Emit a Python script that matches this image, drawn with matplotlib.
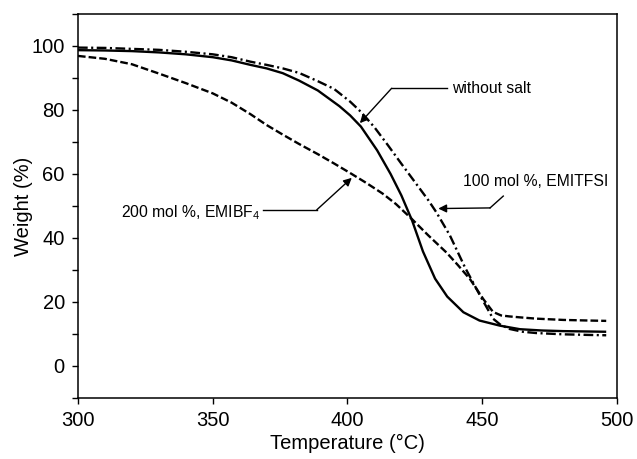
import matplotlib
matplotlib.use("Agg")
import matplotlib.pyplot as plt

plt.rcParams['font.family'] = ['Liberation Sans', 'DejaVu Sans']
plt.rcParams['mathtext.fontset'] = 'custom'
plt.rcParams['mathtext.rm'] = 'Liberation Sans'
plt.rcParams['lines.scale_dashes'] = False

# without salt (solid)
t_nosalt = [300, 310, 320, 330, 340, 350, 357, 364, 370, 376, 382, 389, 397, 401, 405,
            411, 416, 420, 424, 428, 432.5, 437, 443, 449, 456.6, 464, 472, 480, 488, 496]
w_nosalt = [98.7, 98.6, 98.4, 98.0, 97.4, 96.5, 95.5, 94.1, 93.0, 91.5, 89.2, 86.1, 81.2, 78.3, 74.8,
            67.4, 60.0, 53.3, 45.4, 35.8, 27.3, 21.7, 16.8, 14.2, 12.6, 11.5, 11.1, 10.9, 10.8, 10.7]

# 100 mol %, EMITFSI (dash-dot)
t_tfsi = [300, 310, 320, 330, 340, 350, 357, 364, 370, 376, 382, 389, 395, 401, 405, 410,
          415, 420, 425, 430, 433, 438, 443.6, 449.2, 454, 456.6, 460, 465, 470, 480, 490, 496]
w_tfsi = [99.5, 99.4, 99.1, 98.8, 98.2, 97.4, 96.5, 95.1, 94.1, 93.0, 91.6, 89.0, 86.6, 82.6, 79.4, 74.6,
          69.0, 63.2, 57.5, 51.8, 48.0, 40.8, 30.8, 22.0, 14.8, 13.0, 11.6, 10.7, 10.3, 9.9, 9.7, 9.6]

# 200 mol %, EMIBF4 (dashed)
t_bf4 = [300, 310, 320, 330, 340, 350, 357, 364, 370, 376, 382, 389, 395, 401, 407, 413, 418,
         423.8, 430, 436.8, 441, 445.5, 450.4, 454, 457, 460, 464, 470, 480, 490, 496]
w_bf4 = [96.9, 96.0, 94.3, 91.4, 88.4, 85.2, 82.3, 78.7, 75.3, 72.3, 69.4, 66.2, 63.3, 60.3, 57.2, 53.9, 50.6,
         46.0, 40.8, 35.4, 31.5, 27.1, 20.9, 16.9, 15.8, 15.5, 15.2, 14.8, 14.4, 14.2, 14.1]

xticks = [300, 350, 400, 450, 500]
yticks = [0, 20, 40, 60, 80, 100]

fig = plt.figure(figsize=(6.37, 4.59), dpi=100)
ax = fig.add_axes([0.1224, 0.1329, 0.8462, 0.8366])

ax.plot(t_nosalt, w_nosalt, color='black', lw=1.7, solid_capstyle='butt')
ax.plot(t_tfsi, w_tfsi, color='black', lw=1.7, dashes=(7, 2.5, 1.5, 2.5))
ax.plot(t_bf4, w_bf4, color='black', lw=1.7, dashes=(5.5, 2.2))

ax.set_xlim(300, 500)
ax.set_ylim(-10, 110)
ax.set_xticks(xticks)
ax.set_yticks(yticks)
ax.set_yticks([-10, 10, 30, 50, 70, 90, 110], minor=True)
ax.tick_params(axis='both', which='both', direction='out', labelsize=14.5,
               top=False, right=False, width=1.0)
ax.tick_params(axis='both', which='major', length=4.5, pad=5)
ax.tick_params(axis='y', which='minor', length=4.5)
for s in ax.spines.values():
    s.set_linewidth(1.1)

ax.set_xlabel('Temperature (°C)', fontsize=14.5, labelpad=3)
ax.set_ylabel('Weight (%)', fontsize=14.5, labelpad=-1)

lw_a = 1.0
ap = dict(arrowstyle='-|>', color='black', lw=lw_a, mutation_scale=12, shrinkA=0, shrinkB=0)

# without salt
ax.text(438.8, 86.6, 'without salt', fontsize=11.3, ha='left', va='center')
ax.plot([436.8, 416.4], [86.8, 86.8], color='black', lw=lw_a)
ax.annotate('', xy=(404.6, 75.9), xytext=(416.4, 86.8), arrowprops=ap)

# 100 mol %, EMITFSI
ax.text(442.9, 57.7, '100 mol %, EMITFSI', fontsize=11.3, ha='left', va='center')
ax.plot([457.8, 452.9], [53.1, 49.4], color='black', lw=lw_a)
ax.annotate('', xy=(433.7, 49.2), xytext=(452.9, 49.4), arrowprops=ap)

# 200 mol %, EMIBF4
ax.text(367.8, 47.8, '200 mol %, EMIBF$_\\mathregular{4}$', fontsize=11.3, ha='right', va='center')
ax.plot([368.6, 388.6], [48.8, 48.8], color='black', lw=lw_a)
ax.annotate('', xy=(401.6, 58.8), xytext=(388.6, 48.8), arrowprops=ap)

fig.savefig('out.png', dpi=100)
